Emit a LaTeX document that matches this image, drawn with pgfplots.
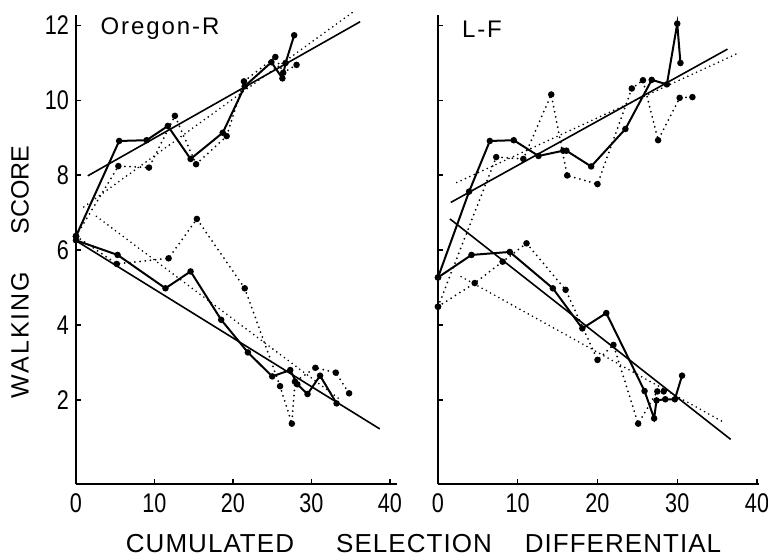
\documentclass[border=0pt]{standalone}
\usepackage{fontspec}
\setmainfont{Liberation Sans}
\newfontfamily\tickfont{Liberation Sans}[FakeStretch=0.8]
\newfontfamily\spfont{Liberation Sans}[LetterSpace=8]
\newfontfamily\bfont{Liberation Sans}[LetterSpace=4]
\usepackage{pgfplots}
\pgfplotsset{compat=1.18}

\pgfplotsset{
  panel/.style={
    scale only axis, width=160.5pt, height=234.5pt,
    xmin=0, ymin=-0.24, ymax=12.27,
    axis x line*=bottom, axis y line*=left,
    axis line style={line width=0.9pt, -},
    xtick={0,10,20,30,40}, ytick={2,4,...,12},
    tick align=inside, major tick length=2.5pt,
    tick style={line width=0.6pt, black},
    clip=false,
    tick label style={font=\tickfont\fontsize{13.5}{14}\selectfont},
    xticklabel style={anchor=base, inner sep=0pt, yshift=-14pt},
    /pgf/number format/assume math mode=true,
  },
  dat/.style={black, line width=1pt, mark=*, mark size=1.1pt},
  fit/.style={black, line width=0.8pt},
  ddat/.style={black, line width=1pt, dash pattern=on 0pt off 2.6pt, line cap=round,
               mark=*, mark size=1.1pt, mark options={solid}},
  dfit/.style={black, line width=0.9pt, dash pattern=on 0pt off 2.4pt, line cap=round},
}
\tikzset{btxt/.style={anchor=base, inner sep=0pt, font=\bfont\fontsize{13}{13}\selectfont}}

\begin{document}
\begin{tikzpicture}
\path[use as bounding box] (0,0) rectangle (384pt,-279pt);

% Oregon-R
\begin{axis}[panel, at={(38pt,-242pt)}, anchor=south west, xmax=40.9]
% upward selection
\addplot[dat] coordinates {(0,6.37) (5.5,8.91) (9.0,8.93) (11.7,9.31) (14.6,8.43) (18.7,9.13) (21.5,10.37) (24.9,11.01) (26.3,10.58) (26.7,10.99) (27.8,11.73)};
\addplot[ddat] coordinates {(0,6.37) (5.4,8.24) (9.3,8.2) (12.6,9.58) (15.3,8.29) (19.2,9.04) (21.4,10.5) (25.4,11.15) (26.4,10.73) (28.1,10.94)};
\addplot[fit] coordinates {(1.5,7.98) (36.2,12.09)};
\addplot[dfit] coordinates {(1.0,7.15) (35.3,12.35)};
% downward selection
\addplot[dat] coordinates {(0,6.26) (5.3,5.87) (11.4,4.98) (14.6,5.43) (18.5,4.14) (21.9,3.27) (25.0,2.63) (27.3,2.8) (28.2,2.42) (29.5,2.16) (31.1,2.65) (33.2,1.91)};
\addplot[ddat] coordinates {(0,6.37) (5.2,5.63) (11.8,5.78) (15.4,6.83) (21.5,4.98) (26.0,2.37) (27.5,1.37) (27.9,2.49) (30.5,2.86) (33.1,2.73) (34.8,2.18)};
\addplot[fit] coordinates {(0,6.25) (38.7,1.23)};
\addplot[dfit] coordinates {(2.6,6.9) (33.8,1.99)};
\end{axis}

% L-F
\begin{axis}[panel, at={(219pt,-242pt)}, anchor=south west, xmax=40.25, yticklabels={}]
\addplot[dat] coordinates {(0,5.27) (3.9,7.56) (6.5,8.91) (9.5,8.93) (12.6,8.51) (15.7,8.65) (16.1,8.65) (19.2,8.23) (23.5,9.23) (26.8,10.54) (28.7,10.42) (30,12.04) (30.4,10.99)};
\addplot[ddat] coordinates {(0,4.49) (7.3,8.48) (10.7,8.43) (14.2,10.15) (16.2,7.99) (20,7.76) (24.3,10.31) (25.7,10.53) (27.6,8.93) (30.3,10.06) (31.9,10.08)};
\addplot[fit] coordinates {(1.6,7.27) (36.3,11.36)};
\addplot[dfit] coordinates {(2.35,7.8) (37.4,11.23)};
\addplot[dat] coordinates {(0,5.27) (4.2,5.87) (9.0,5.95) (14.4,4.98) (18.1,3.91) (21.1,4.32) (25.9,2.24) (27.1,1.51) (27.4,1.99) (28.5,2.02) (29.7,2.02) (30.6,2.65)};
\addplot[ddat] coordinates {(0,4.49) (4.6,5.12) (8.1,5.69) (11.1,6.18) (16,4.94) (20,3.07) (22,3.47) (25.1,1.37) (27.5,2.23) (28.3,2.23)};
\addplot[fit] coordinates {(1.5,6.83) (36.7,0.95)};
\addplot[dfit] coordinates {(2.9,5.29) (35.8,1.41)};
\end{axis}

\node[font=\spfont\fontsize{12}{12}\selectfont] at (80pt,-14.5pt) {Oregon-R};
\node[font=\spfont\fontsize{12}{12}\selectfont] at (241pt,-14.5pt) {L-F};
\node[font=\spfont\fontsize{12.5}{13}\selectfont, rotate=90] at (10pt,-167.5pt) {WALKING};
\node[font=\fontsize{12.5}{13}\selectfont, rotate=90] at (10pt,-95pt) {SCORE};
\node[btxt] at (105pt,-276pt) {CUMULATED};
\node[btxt] at (207pt,-276pt) {SELECTION};
\node[btxt] at (311.5pt,-276pt) {DIFFERENTIAL};
\end{tikzpicture}
\end{document}
